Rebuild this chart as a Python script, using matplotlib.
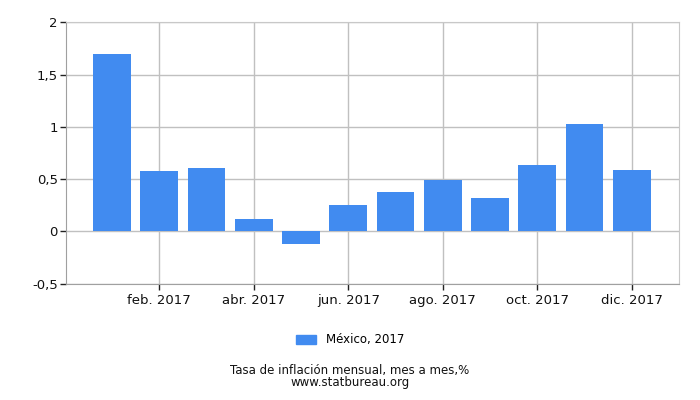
import matplotlib
matplotlib.use("Agg")
import matplotlib.pyplot as plt
from matplotlib.patches import Patch

# ---- data ----
months = ["ene. 2017", "feb. 2017", "mar. 2017", "abr. 2017", "may. 2017", "jun. 2017",
          "jul. 2017", "ago. 2017", "sep. 2017", "oct. 2017", "nov. 2017", "dic. 2017"]
inflation = [1.70, 0.58, 0.61, 0.12, -0.12, 0.25, 0.38, 0.49, 0.32, 0.63, 1.03, 0.59]
y_ticks = [-0.5, 0, 0.5, 1, 1.5, 2]
y_tick_labels = ["-0,5", "0", "0,5", "1", "1,5", "2"]
series_label = "México, 2017"
bar_color = "#418bf0"

fig = plt.figure(figsize=(7, 4), dpi=100)
ax = fig.add_axes([66 / 700, (400 - 283.5) / 400, (678.7 - 66) / 700, (283.5 - 22.3) / 400])

x = list(range(len(months)))
ax.bar(x, inflation, width=0.8, color=bar_color, zorder=3)

ax.set_xlim(-0.977, 11.996)
ax.set_ylim(-0.5, 2)

ax.set_yticks(y_ticks)
ax.set_yticklabels(y_tick_labels)
ax.set_xticks(x[1::2])
ax.set_xticklabels(months[1::2])

ax.grid(True, color="#c0c0c0", linewidth=1, zorder=0)
for s in ["top", "right"]:
    ax.spines[s].set_color("#c8c8c8")
for s in ["left", "bottom"]:
    ax.spines[s].set_color("#a0a0a0")
ax.tick_params(axis="both", colors="#222222", labelsize=9.5, length=4, width=1)
ax.tick_params(axis="y", pad=2)
for lbl in ax.get_xticklabels() + ax.get_yticklabels():
    lbl.set_color("#111111")

fig.legend(handles=[Patch(color=bar_color, label=series_label)], loc="center",
           bbox_to_anchor=(0.5, 1 - 340 / 400), frameon=False, fontsize=8.5,
           handlelength=1.7, handleheight=0.8)

fig.text(0.5, 1 - 376.5 / 400, "Tasa de inflación mensual, mes a mes,%\nwww.statbureau.org",
         ha="center", va="center", fontsize=8.5, color="#111111", linespacing=0.95)

fig.savefig("out.png", dpi=100)
